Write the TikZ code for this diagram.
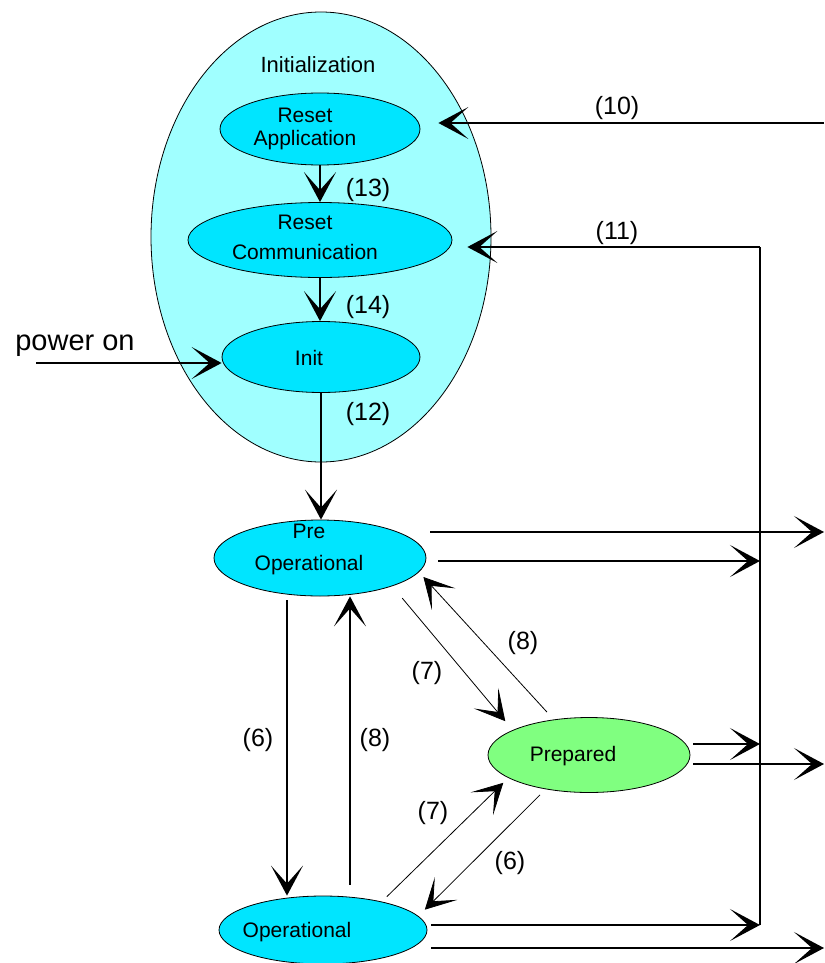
\documentclass[tikz,border=0pt]{standalone}
\usepackage{fontspec}
\setmainfont{Liberation Sans}
\usetikzlibrary{arrows.meta,shapes.geometric}
\definecolor{InitCyan}{HTML}{A0FFFF}
\definecolor{StateCyan}{HTML}{00E5FF}
\definecolor{PrepGreen}{HTML}{80FF80}

\tikzset{
  statebox/.style={ellipse, draw=black, line width=0.8pt, fill=StateCyan, inner sep=0pt},
  statetext/.style={align=center, inner sep=0pt, font=\fontsize{21}{24}\selectfont},
  numlabel/.style={inner sep=0pt, font=\fontsize{25}{27}\selectfont},
  arr/.style={line width=1.6pt, -{Stealth[length=30pt, width=32pt, inset=18pt]}},
  thinarr/.style={line width=0.8pt, -{Stealth[length=30pt, width=32pt, inset=18pt]}}
}

\begin{document}
\begin{tikzpicture}[x=1pt, y=-1pt]
    \fill[white] (0,0) rectangle (824,963);
    \useasboundingbox (0,0) rectangle (824,963);

    % initialization group
    \node[ellipse, draw=black, line width=0.8pt, fill=InitCyan, inner sep=0pt,
      minimum width=340pt, minimum height=450pt] (initgrp) at (321,237) {};
    \node[statetext, font=\fontsize{22}{24}\selectfont] (initlbl) at (318,65) {Initialization};

    % states
    \node[statebox, minimum width=200pt, minimum height=72pt] (ra) at (320,129) {};
    \node[statetext] (ratext) at (305,129) {Reset\\[-1pt]Application};
    \node[statebox, minimum width=264pt, minimum height=75pt] (rc) at (320,240) {};
    \node[statetext] (rctext) at (305,237) {Reset\\[6pt]Communication};
    \node[statebox, minimum width=198pt, minimum height=71pt] (init) at (321,357) {};
    \node[statetext] (inittext) at (309,358) {Init};
    \node[statebox, minimum width=212pt, minimum height=76pt] (preop) at (320,558) {};
    \node[statetext] (preoptext) at (309,549) {Pre\\[8pt]Operational};
    \node[statebox, fill=PrepGreen, minimum width=202pt, minimum height=75pt] (prep) at (589,755) {};
    \node[statetext] (preptext) at (573,756) {Prepared};
    \node[statebox, minimum width=208pt, minimum height=68pt] (op) at (323,930) {};
    \node[statetext] (optext) at (297,932) {Operational};

    % free ends
    \coordinate (pwr) at (36,363);
    \coordinate (topR) at (824,123);
    \coordinate (rEdge) at (824,0);
    \coordinate (busT) at (760,247);
    \coordinate (busB) at (760,925);
    \coordinate (poHi) at ([xshift=4pt,yshift=26pt]preop.east);
    \coordinate (poLo) at ([xshift=12pt,yshift=-3pt]preop.east);
    \coordinate (prHi) at ([xshift=3pt,yshift=11pt]prep.east);
    \coordinate (prLo) at ([xshift=3pt,yshift=-9pt]prep.east);
    \coordinate (opHi) at ([xshift=4pt,yshift=5pt]op.east);
    \coordinate (opLo) at ([xshift=4pt,yshift=-18pt]op.east);

    % inside initialization
    \draw[arr] (ra) -- (rc);
    \draw[arr] (rc.south) -- (rc.south |- init.north);
    \draw[arr] (init.south) -- (init.south |- preop.north);
    \draw[arr] (pwr) -- (pwr -| init.west);
    \node[statetext, font=\fontsize{29}{31}\selectfont] (pwrtext) at (75,346) {power on};
    \node[numlabel] (l13) at (368,190) {(13)};
    \node[numlabel] (l14) at (368,307) {(14)};
    \node[numlabel] (l12) at (368,414) {(12)};

    % resets
    \draw[arr, shorten >=18pt] (topR) -- (topR -| ra.east);
    \node[numlabel] (l10) at (617,108) {(10)};
    \draw[line width=1.6pt] (busB) -- (busT);
    \draw[arr, shorten >=15pt] (busT) -- (busT -| rc.east);
    \node[numlabel] (l11) at (617,233) {(11)};

    % to reset lines
    \draw[arr] (poHi) -- (poHi -| rEdge);
    \draw[arr] (poLo) -- (poLo -| busT);
    \draw[arr] (prHi) -- (prHi -| busT);
    \draw[arr] (prLo) -- (prLo -| rEdge);
    \draw[arr] (opHi) -- (opHi -| busT);
    \draw[arr] (opLo) -- (opLo -| rEdge);

    % pre operational / operational
    \draw[arr] ([xshift=-33pt,yshift=-4pt]preop.south) -- ([xshift=-36pt]op.north);
    \draw[arr] ([xshift=27pt,yshift=11pt]op.north) -- ([xshift=30pt]preop.south);
    \node[numlabel] (l6a) at (258,740) {(6)};
    \node[numlabel] (l8a) at (375,740) {(8)};

    % prepared
    \draw[thinarr] ([xshift=7pt,yshift=-13pt]preop.south east) -- ([xshift=-12pt,yshift=7pt]prep.north west);
    \draw[thinarr] ([xshift=-42pt,yshift=5pt]prep.north) -- ([xshift=-3pt,yshift=-19pt]preop.east);
    \node[numlabel] (l7a) at (427,673) {(7)};
    \node[numlabel] (l8b) at (523,643) {(8)};
    \draw[thinarr] ([xshift=-10pt,yshift=9pt]op.north east) -- ([xshift=-14pt,yshift=-1pt]prep.south west);
    \draw[thinarr] ([xshift=-49pt,yshift=-2pt]prep.south) -- ([xshift=28pt,yshift=-4pt]op.north east);
    \node[numlabel] (l7b) at (433,813) {(7)};
    \node[numlabel] (l6b) at (510,863) {(6)};
\end{tikzpicture}
\end{document}
